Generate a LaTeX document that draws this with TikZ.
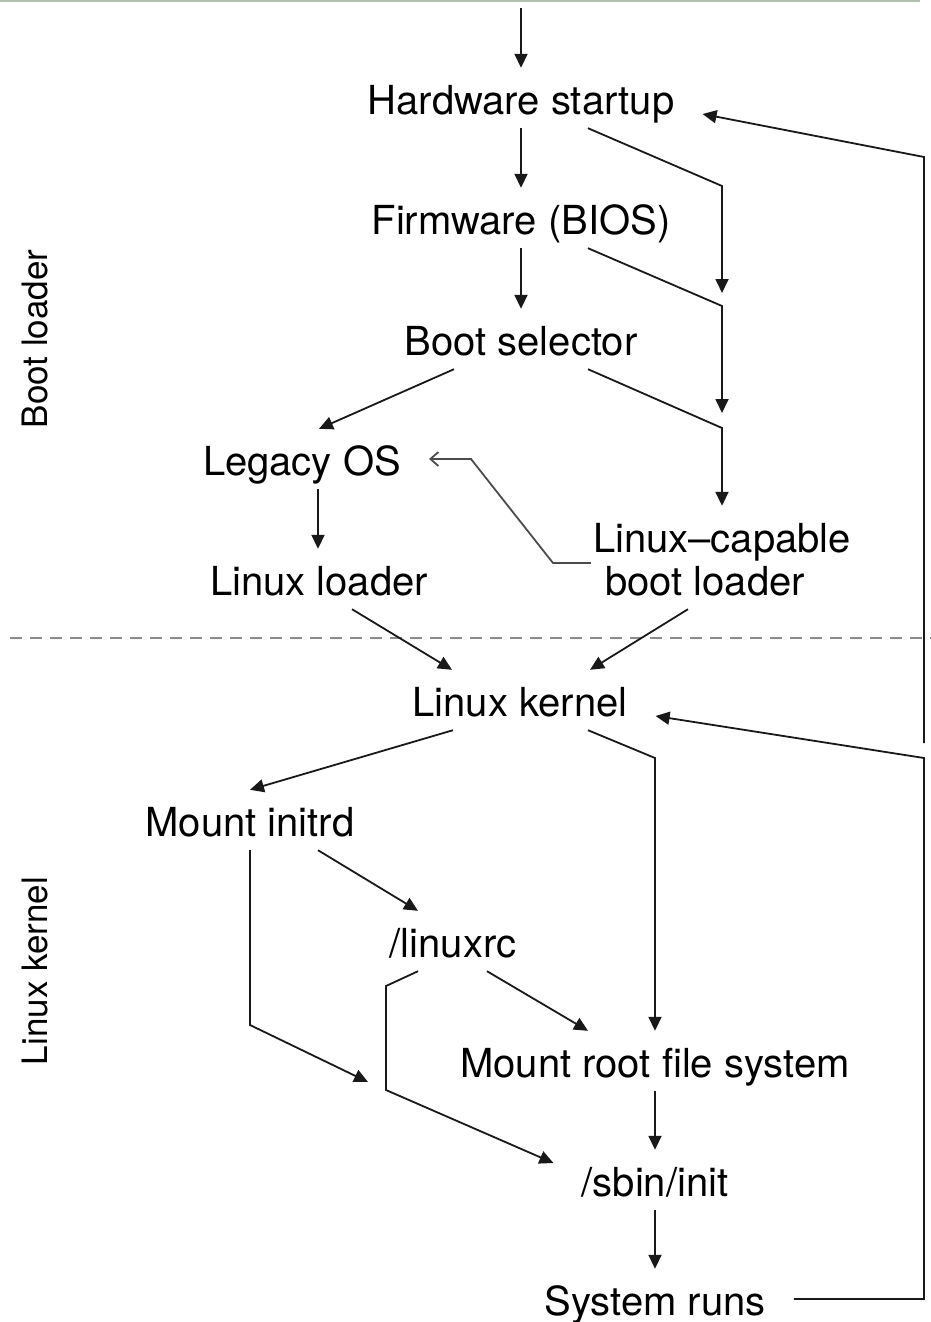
\documentclass[tikz,border=0pt]{standalone}
\usepackage{fontspec}
\setmainfont{TeX Gyre Heros}
\usetikzlibrary{arrows.meta}
\begin{document}
\begin{tikzpicture}[x=1pt,y=-1pt,
  lbl/.style={inner xsep=28pt, inner ysep=0pt, text height=46pt, text depth=14pt,
              anchor=base, font=\fontsize{40}{48}\selectfont},
  side/.style={rotate=90, inner sep=0pt, font=\fontsize{35}{42}\selectfont},
  conn/.style={line width=1.8pt, draw=black!90, line join=miter,
               -{Triangle[length=14pt,width=13pt]}},
  openconn/.style={line width=1.8pt, draw=black!70, line join=miter,
               -{Straight Barb[length=8pt,width=14pt,line width=1.8pt]}},
  sep/.style={line width=2pt, draw=black!45, dash pattern=on 12pt off 8pt}
]
\useasboundingbox (0,0) rectangle (931,1322);
% faint top edge
\draw[line width=2pt, draw=green!20!black!30] (0,1.5) -- (920,1.5);

% nodes
\node[lbl] (hw)      at (521,114)  {Hardware startup};
\node[lbl] (fw)      at (521,234)  {Firmware (BIOS)};
\node[lbl] (bs)      at (521,355)  {Boot selector};
\node[lbl] (legacy)  at (302,475)  {Legacy OS};
\node[lbl] (loader)  at (319,595)  {Linux loader};
\node[lbl] (lcbA)    at (722,552)  {Linux–capable};
\node[lbl] (lcbB)    at (705,595)  {boot loader};
\node[lbl] (kernel)  at (520,716)  {Linux kernel};
\node[lbl] (initrd)  at (250,836)  {Mount initrd};
\node[lbl] (linuxrc) at (453,957)  {/linuxrc};
\node[lbl] (mrfs)    at (655,1077) {Mount root file system};
\node[lbl] (sbin)    at (655,1196) {/sbin/init};
\node[lbl] (sysruns) at (655,1315) {System runs};

\node[side] (sideboot)   at (35,339) {Boot loader};
\node[side] (sidekernel) at (35,971) {Linux kernel};

% separator
\draw[sep] (10,638) -- (931,638);

% coordinates for free ends and bends
\coordinate (top) at (521,8);
\coordinate (hwbend) at (722,186);
\coordinate (hwend) at (722,293);
\coordinate (fwbend) at (722,306);
\coordinate (fwend) at (722,413);
\coordinate (bsbend) at (722,428);
\coordinate (lgA) at (553,563);
\coordinate (lgB) at (471,459);
\coordinate (kbend) at (655,758);
\coordinate (loopK) at (924,758);
\coordinate (gapTop) at (924,743);
\coordinate (loopH) at (924,157);
\coordinate (irA) at (250,1025);
\coordinate (irEnd) at (368,1082);
\coordinate (rcA) at (386,986);
\coordinate (rcB) at (386,1090);

% connectors
\draw[conn] (top) -- (hw.north);
\draw[conn] (hw.south) -- (fw.north);
\draw[conn] (fw.south) -- (bs.north);
\draw[conn] ([xshift=67pt]hw.south) -- (hwbend) -- (hwend);
\draw[conn] ([xshift=67pt]fw.south) -- (fwbend) -- (fwend);
\draw[conn] ([xshift=67pt]bs.south) -- (bsbend) -- (lcbA.north);
\draw[conn] ([xshift=-67pt]bs.south) -- ([xshift=17pt]legacy.north);
\draw[conn] ([xshift=16pt]legacy.south) -- ([xshift=-1pt]loader.north);
\draw[openconn] ([shift={(14pt,16pt)}]lcbB.west) -- (lgA) -- (lgB) -- (legacy.east);
\draw[conn] ([xshift=33pt]loader.south) -- ([xshift=-68pt]kernel.north);
\draw[conn] ([xshift=-17pt]lcbB.south) -- ([xshift=70pt]kernel.north);
\draw[conn] ([xshift=-67pt]kernel.south) -- (initrd.north);
\draw[conn] ([xshift=68pt]kernel.south) -- (kbend) -- (mrfs.north);
\draw[conn] (sysruns.east) -| (loopK) -- (kernel.base east);
\draw[conn] (gapTop) -- (loopH) -- (hw.base east);
\draw[conn] ([xshift=68pt]initrd.south) -- ([xshift=-35pt]linuxrc.north);
\draw[conn] (initrd.south) -- (irA) -- (irEnd);
\draw[conn] ([xshift=34pt]linuxrc.south) -- ([xshift=-67pt]mrfs.north);
\draw[conn] ([xshift=-35pt]linuxrc.south) -- (rcA) -- (rcB) -- ([yshift=17pt]sbin.west);
\draw[conn] (mrfs.south) -- (sbin.north);
\draw[conn] (sbin.south) -- (sysruns.north);
\end{tikzpicture}
\end{document}
